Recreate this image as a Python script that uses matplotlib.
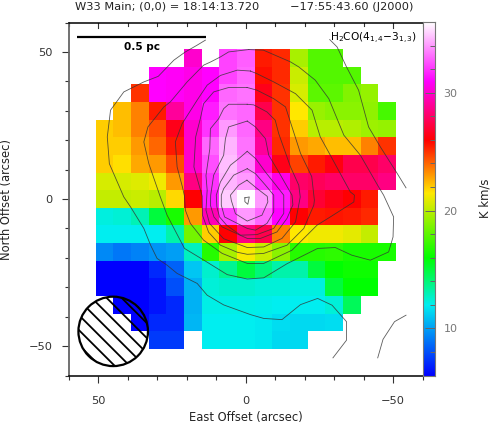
import numpy as np
import matplotlib
matplotlib.use("Agg")
import matplotlib.pyplot as plt
from matplotlib.colors import LinearSegmentedColormap
from matplotlib.patches import Circle

plt.rcParams["font.family"] = "DejaVu Sans"
plt.rcParams["mathtext.default"] = "regular"

n = np.nan

# offsets of the map cells (arcsec)
east = [48, 42, 36, 30, 24, 18, 12, 6, 0, -6, -12, -18, -24, -30, -36, -42, -48]
north = [48, 42, 36, 30, 24, 18, 12, 6, 0, -6, -12, -18, -24, -30, -36, -42, -48]

# integrated intensity, K km/s, one row per north offset
row_p48 = [n, n, n, n, n, 30, n, 32.3, 32.8, 25.5, 25.2, 19.6, 17.8, 17.8, n, n, n]
row_p42 = [n, n, n, 31, 30.8, 30.5, 31, 32.3, 33, 25.7, 25.2, 20.3, 17.8, 17.8, 17.8, n, n]
row_p36 = [n, n, 25, 31, 30.8, 30.5, 31, 33, 33.2, 26.5, 25, 20.6, 18, 18, 18.8, 19.2, n]
row_p30 = [n, 22.3, 23.5, 25.5, 29, 30.5, 31.5, 33.2, 33, 27.5, 25, 21.5, 19.3, 19, 19, 19.1, 17.5]
row_p24 = [22, 22.3, 23.5, 24.5, 26.5, 30, 32, 34, 33, 28.5, 25, 22, 20, 20, 19.8, 19.4, 19.2]
row_p18 = [22, 22, 23, 24, 25.5, 30, 33, 34.5, 33.2, 29, 25.2, 23, 22.7, 22.3, 22.3, 23.5, 25]
row_p12 = [22, 21.7, 22.7, 23, 24.5, 30, 32.5, 34.7, 33.5, 30, 26.5, 24.7, 25.5, 26.3, 27.5, 27.5, 28]
row_p06 = [20.6, 20.6, 20.8, 21.2, 23, 28.5, 32, 34.5, 34, 32, 30.5, 28, 27.7, 28, 28, 28, 28.5]
row_000 = [20.2, 20.2, 20.3, 20, 21.8, 26, 31.5, 35, 36, 34, 31.5, 28.5, 27, 26.4, 26, 25.5, n]
row_m06 = [12.3, 12.5, 13, 15, 16.5, 23, 29.5, 32.3, 34, 33, 31, 26, 25.5, 25.6, 25.5, 25.2, n]
row_m12 = [12, 12, 12, 12, 13.2, 18.5, 22, 26, 28.5, 27.5, 23.5, 21.5, 21.2, 21.2, 20.9, 20.2, n]
row_m18 = [9.5, 9, 9.3, 9.7, 10, 12.8, 16.8, 19.6, 21.3, 20.3, 19, 16.8, 16.8, 17, 16.5, 16.5, 16.5]
row_m24 = [6, 6, 6, 7, 8.5, 11, 12.6, 13.6, 15, 14, 13.2, 13.2, 15, 16, 16.3, 16.3, n]
row_m30 = [6, 6, 6, 6.5, 8, 10.5, 12.4, 12.6, 12.6, 12.4, 12.4, 12.3, 12.3, 15, 16, 16, n]
row_m36 = [n, 6, 6, 6.5, 7, 10.5, 12.2, 12.2, 12.2, 12.1, 12, 12, 12, 12.4, 14.5, n, n]
row_m42 = [n, n, 6, 7, 7, 10.6, 12, 12, 12, 11.9, 11.6, 11.5, 11.5, 11.6, n, n, n]
row_m48 = [n, n, n, 7.5, 7.5, n, 12, 12, 12, 11.9, 11.5, 11.5, n, n, n, n, n]

# contours as (east, north) in arcsec
cont_outer_left = [(13.7, 54), (16.5, 52.3), (20.5, 50), (24.4, 47.2), (29.7, 41.7), (34.6, 39.8), (41.4, 36.4),
                   (45.9, 30.2), (47, 21.1), (46.3, 12), (41.4, 0.7), (39.1, -2.7), (34.6, -10), (32.3, -15.7),
                   (30.1, -20.2), (26.7, -22.5), (23.3, -25.3), (16.5, -28.7), (13.1, -32.7), (7.5, -36),
                   (-1.6, -39.3), (-6.1, -40.6), (-12.3, -41), (-18.6, -35.9), (-24.4, -33.8), (-29.3, -36.1),
                   (-34.2, -41.7), (-34.2, -48), (-29.6, -54)]
cont_outer_right = [(-28.5, 54.2), (-31, 51.7), (-34.2, 44.9), (-38.3, 37), (-41.7, 24.5), (-45.7, 17.7),
                    (-51.4, 8.7), (-54.4, 3.8)]
cont_corner = [(-54.4, -39.5), (-50.5, -41.7), (-46.6, -47.7), (-44.8, -54)]
cont_2 = [(-1, 50.8), (5.8, 50), (8.6, 48.3), (11.9, 46.6), (14.3, 45.5), (19.9, 39.8), (25.6, 33), (27.8, 31.3),
          (33.2, 24.5), (34.6, 19.4), (32.9, 12), (29, 0.7), (26.7, -5.5), (20.8, -16.8), (14.2, -20.8),
          (6.3, -25.7), (-0.5, -27.2), (-6.1, -26.8), (-14, -22), (-24.4, -16.8), (-30.4, -16.5), (-36, -19.1),
          (-42.3, -20.8), (-48.5, -18), (-50, -12.9), (-50.2, -6.1), (-46.8, 1.3), (-45.1, 4.1), (-38.9, 14.9),
          (-33.3, 21.7), (-28.2, 34.1), (-23.6, 40.4), (-18, 44.9), (-15.2, 46.6), (-6, 50.6), (-1, 50.8)]
cont_3 = [(-1.6, 43.5), (2.9, 43.8), (8.6, 42), (13.1, 38.7), (16.5, 33.6), (21.6, 25.6), (23.9, 19.4), (23.3, 10.9),
          (21.5, 4.1), (20.8, 1), (20.5, -3.8), (18.8, -8.3), (14.3, -14), (8, -18.5), (-0.5, -21.9), (-6.1, -21.9),
          (-15.7, -17.4), (-24.2, -8.9), (-28.7, -6.1), (-36.7, -1), (-36.9, 1.3), (-35.5, 2.4), (-28.7, 14.9),
          (-25.3, 21.1), (-22.5, 30.2), (-16.9, 35.8), (-9.5, 39.8), (-3.8, 42.6), (-1.6, 43.5)]
cont_4 = [(-0.5, 37.9), (5.8, 37.9), (10.9, 36.4), (14.3, 32.4), (15.4, 27.4), (17, 21.1), (17.6, 10.9), (14.8, 1),
          (14.7, -5.5), (12.6, -11.3), (8.6, -15.7), (2.9, -18.1), (-0.5, -18.8), (-6.1, -18.5), (-14, -15.7),
          (-19.7, -10), (-23.1, -2.1), (-23.3, -0.4), (-22.4, 7.6), (-18.6, 15.5), (-15.7, 24.5), (-13.5, 31.3),
          (-9.5, 34.1), (-3.8, 37), (-0.5, 37.9)]
cont_5 = [(-0.5, 32.2), (5.8, 32.2), (7.5, 30.7), (9.2, 27.3), (12, 23.9), (12.2, 17.1), (13.5, 8), (13.1, 3),
          (13.5, -3.8), (12.3, -8.3), (7.5, -13.5), (-0.5, -16.5), (-6.1, -16.3), (-12.3, -13.4), (-16.9, -7.8),
          (-18.5, 0.7), (-18, 4.7), (-15.2, 10.9), (-11.2, 22.2), (-10, 26.8), (-7.2, 29.6), (-2.7, 32), (-0.5, 32.2)]
cont_6 = [(-0.5, 26.5), (5.8, 24.5), (6.9, 20.5), (7.5, 14.9), (10.9, 8.1), (11.9, 1.3), (12, -2.1), (10.8, -6.1),
          (8, -9.5), (-0.5, -13.4), (-5, -13.4), (-10.6, -11.2), (-14, -6.6), (-16, -2), (-15.7, 1.3), (-13, 6),
          (-11.2, 9.2), (-7.8, 14.9), (-6.7, 20.5), (-3.3, 24.5), (-0.5, 26.5)]
cont_7 = [(-0.5, 16.2), (2.4, 13.7), (5.2, 11.5), (8.6, 5.8), (10, 1.3), (9.8, -2.7), (8.9, -6.1), (6.5, -8.9),
          (1.8, -12.3), (-3.8, -12.1), (-9.5, -10), (-12.9, -4.9), (-12.9, 1.3), (-10, 5), (-6.8, 9), (-3.4, 13.7),
          (-0.5, 16.2)]
cont_8 = [(-0.5, 10.3), (4.1, 8.1), (7.5, 3.5), (8.3, 1.3), (8.3, -2.1), (7.2, -6.1), (-0.5, -10), (-3.3, -10.6),
          (-7.2, -8.3), (-9.5, -4.4), (-9.5, 1.3), (-6.7, 4.7), (-3.3, 8.6), (-0.5, 10.3)]
cont_9 = [(-0.4, 6.4), (2.4, 4.7), (5.2, 1.3), (4.9, -0.5), (3.5, -5), (-0.5, -7.5), (-5.5, -5.5), (-7.5, -1),
          (-7.3, 0.9), (-3.8, 3.6), (-0.4, 6.4)]
cont_10 = [(0.3, 0.4), (-1.2, 0.7), (-0.7, -1.8), (0.3, -0.9), (0.3, 0.4)]

# colour stops of the wedge
cbar_vmin = 6
cbar_vmax = 36
stop_values = [6, 12, 16, 21.5, 26, 31, 36]
stop_colors = ["#0000ff", "#00eef0", "#00ff00", "#ffe800", "#ff0000", "#ff00ff", "#ffffff"]

W, H = 491, 425


def box(left, top, right, bottom):
    return [left / W, 1 - bottom / H, (right - left) / W, (bottom - top) / H]


fig = plt.figure(figsize=(W / 100, H / 100), dpi=100)
ax = fig.add_axes(box(69, 22.5, 422.5, 375.5))

norm_stops = [(v - cbar_vmin) / (cbar_vmax - cbar_vmin) for v in stop_values]
cmap = LinearSegmentedColormap.from_list("wedge", list(zip(norm_stops, stop_colors)), N=512)

grid = np.array([row_p48, row_p42, row_p36, row_p30, row_p24, row_p18, row_p12, row_p06, row_000,
                 row_m06, row_m12, row_m18, row_m24, row_m30, row_m36, row_m42, row_m48])
ax.pcolormesh(east, north, np.ma.masked_invalid(grid), cmap=cmap, vmin=cbar_vmin, vmax=cbar_vmax,
              shading="nearest", linewidth=0, rasterized=True)

contours = [cont_outer_left, cont_outer_right, cont_corner, cont_2, cont_3, cont_4, cont_5, cont_6, cont_7,
            cont_8, cont_9, cont_10]
for c in contours:
    xs, ys = zip(*c)
    ax.plot(xs, ys, color="#333333", lw=0.6, alpha=0.8, solid_joinstyle="round")

ax.set_xlim(60, -60)
ax.set_ylim(-60, 60)

# beam, hatched and not filled
beam = Circle((45, -45), 11.8, fill=False, ec="black", lw=1.6, zorder=5)
ax.add_patch(beam)
for off in [-144, -99, -54, -9, 36, 81, 126]:
    d = -off / 8.84
    t = np.array([-20.0, 20.0])
    line, = ax.plot(45 + t + d / 2, -45 + t - d / 2, color="black", lw=1.3, zorder=5)
    line.set_clip_path(Circle((45, -45), 11.8, transform=ax.transData))

# scale bar
ax.plot([57.2, 13.6], [55, 55], color="black", lw=1.6, solid_capstyle="butt")
ax.text(35.3, 51.8, "0.5 pc", ha="center", va="center", fontsize=7.6, fontweight="bold")
ax.text(-28.5, 54.6, "H$_2$CO(4$_{1,4}$\u22123$_{1,3}$)", ha="left", va="center", fontsize=7.6, color="black")

ax.set_xticks([50, 0, -50])
ax.set_xticks(np.arange(-60, 61, 10), minor=True)
ax.set_yticks([-50, 0, 50])
ax.set_yticks(np.arange(-60, 61, 10), minor=True)
ax.set_xticklabels(["50", "0", "\u221250"], color="#333333", fontsize=8.2)
ax.set_yticklabels(["\u221250", "0", "50"], color="#333333", fontsize=8.2)
ax.tick_params(axis="x", which="major", direction="out", length=5, width=0.8, color="#333333", pad=10, top=False)
ax.tick_params(axis="x", which="minor", direction="out", length=2.6, width=0.8, color="#333333", top=False)
ax.tick_params(axis="y", which="major", direction="out", length=5, width=0.8, color="#333333", pad=7)
ax.tick_params(axis="y", which="minor", direction="out", length=2.6, width=0.8, color="#333333")
for v in np.arange(-60, 61, 10):
    ax.plot([v, v], [60, 58 if v % 50 == 0 else 58.8], color="#333333", lw=0.8, clip_on=False)
ax.set_xlim(60, -60)
ax.set_ylim(-60, 60)

ax.spines["top"].set_linewidth(1.1)
ax.spines["bottom"].set_linewidth(1.1)
ax.spines["left"].set_linewidth(1.3)
ax.spines["left"].set_color("#666666")
ax.spines["right"].set_visible(False)

ax.set_xlabel("East Offset (arcsec)", fontsize=8.3, color="#222222", labelpad=3)
ax.set_ylabel("North Offset (arcsec)", fontsize=8.3, color="#222222", labelpad=11)

fig.text(75 / W, 1 - 9.5 / H, "W33 Main; (0,0) = 18:14:13.720", fontsize=8.2, color="#222222", va="baseline")
fig.text(290 / W, 1 - 9.5 / H, "\u221217:55:43.60 (J2000)", fontsize=8.2, color="#222222", va="baseline")

# colour wedge
cax = fig.add_axes(box(422.5, 22, 435, 375.5))
wedge = np.linspace(cbar_vmin, cbar_vmax, 512).reshape(-1, 1)
cax.imshow(wedge, cmap=cmap, vmin=cbar_vmin, vmax=cbar_vmax, origin="lower", aspect="auto",
           extent=[0, 1, cbar_vmin, cbar_vmax])
cax.set_xticks([])
cax.yaxis.tick_right()
cax.set_yticks([10, 20, 30])
cax.set_yticks(np.arange(8, 36, 2), minor=True)
cax.set_yticklabels(["10", "20", "30"], color="#777777", fontsize=8)
cax.tick_params(axis="y", which="major", direction="in", length=7, width=0.7, color="#666666", pad=6)
cax.tick_params(axis="y", which="minor", direction="in", length=3.5, width=0.7, color="#666666")
for s in cax.spines.values():
    s.set_color("#777777")
    s.set_linewidth(0.8)

fig.text(485 / W, 1 - 198 / H, "K km/s", rotation=90, fontsize=8.4, color="#222222", ha="center", va="center")

fig.savefig("out.png", dpi=100)
